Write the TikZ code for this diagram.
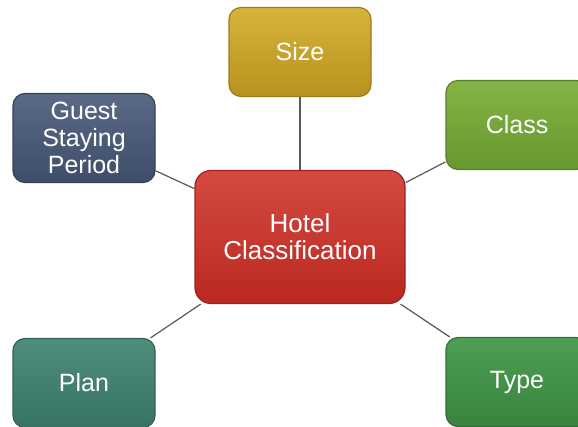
\documentclass[tikz,border=0pt]{standalone}
\usepackage{fontspec}
\setmainfont{Liberation Sans}
\usepackage{tikz}
\usetikzlibrary{shadings}

\definecolor{sizetop}{RGB}{214,180,60}
\definecolor{sizebot}{RGB}{184,146,30}
\definecolor{classtop}{RGB}{132,180,70}
\definecolor{classbot}{RGB}{104,152,46}
\definecolor{guesttop}{RGB}{90,106,134}
\definecolor{guestbot}{RGB}{62,78,106}
\definecolor{hoteltop}{RGB}{212,74,66}
\definecolor{hotelbot}{RGB}{186,40,32}
\definecolor{plantop}{RGB}{78,140,124}
\definecolor{planbot}{RGB}{56,116,100}
\definecolor{typetop}{RGB}{78,158,84}
\definecolor{typebot}{RGB}{56,132,62}

\tikzset{
 topic/.style={rectangle, rounded corners=12pt, minimum width=142pt, minimum height=89pt,
  inner sep=0pt, align=center, text=white, line width=1.2pt,
  font=\fontsize{25}{27}\selectfont},
 hub/.style={topic, minimum width=210pt, minimum height=133pt, rounded corners=16pt,
  font=\fontsize{26}{27}\selectfont},
 link/.style={draw=black!65, line width=1.2pt}
}

\begin{document}
\begin{tikzpicture}[x=1pt,y=-1pt]
 \useasboundingbox (0,0) rectangle (578,426);

 \node[hub, top color=hoteltop, bottom color=hotelbot, draw=hotelbot!85!black] (hotel) at (300,237) {Hotel\\Classification};

 \node[topic, top color=sizetop, bottom color=sizebot, draw=sizebot!85!black] (size) at (300,52) {Size};
 \node[topic, top color=classtop, bottom color=classbot, draw=classbot!85!black] (class) at (517,125) {Class};
 \node[topic, top color=guesttop, bottom color=guestbot, draw=guestbot!85!black] (guest) at (84,138) {Guest\\Staying\\Period};
 \node[topic, top color=plantop, bottom color=planbot, draw=planbot!85!black] (plan) at (84,383) {Plan};
 \node[topic, top color=typetop, bottom color=typebot, draw=typebot!85!black] (type) at (517,382) {Type};

 \draw[link] (hotel) -- (size);
 \draw[link] (hotel) -- (class);
 \draw[link] (hotel) -- (guest);
 \draw[link] (hotel) -- (plan);
 \draw[link] (hotel) -- (type);
\end{tikzpicture}
\end{document}
